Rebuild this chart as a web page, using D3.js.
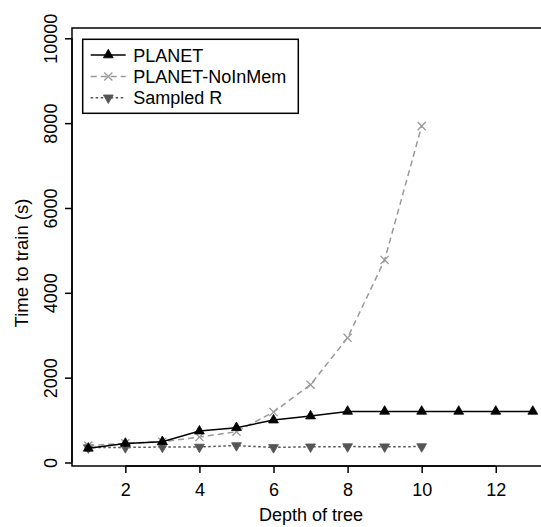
<!DOCTYPE html>
<html>
<head>
<meta charset="utf-8">
<script src="https://cdn.jsdelivr.net/npm/d3@7"></script>
<style>
  html, body { margin: 0; padding: 0; background: #fff; }
  svg text { font-family: "Liberation Sans", Arial, Helvetica, sans-serif; fill: #000; }
</style>
</head>
<body>
<svg id="chart" width="541" height="527"></svg>
<script>
// ---- data ----
const depthPlanet = [1, 2, 3, 4, 5, 6, 7, 8, 9, 10, 11, 12, 13];
const timePlanet = [335, 450, 490, 740, 820, 1000, 1095, 1205, 1205, 1205, 1205, 1205, 1205];

const depthNoInMem = [1, 2, 3, 4, 5, 6, 7, 8, 9, 10];
const timeNoInMem = [400, 452, 490, 600, 726, 1190, 1835, 2940, 4775, 7930];

const depthSampledR = [1, 2, 3, 4, 5, 6, 7, 8, 9, 10];
const timeSampledR = [350, 355, 365, 365, 400, 355, 370, 375, 372, 375];

const xTicks = [2, 4, 6, 8, 10, 12];
const yTicks = [0, 2000, 4000, 6000, 8000, 10000];

const seriesNames = ["PLANET", "PLANET-NoInMem", "Sampled R"];

// ---- layout ----
const svg = d3.select("#chart");
const box = { left: 72, right: 550, top: 28, bottom: 466 };
const x = d3.scaleLinear().domain([1, 13]).range([88.3, 532.8]);
const y = d3.scaleLinear().domain([0, 10000]).range([462.5, 38.3]);

const styles = [
  { color: "#000000", dash: null, marker: "triUp" },
  { color: "#999999", dash: "6,4", marker: "cross" },
  { color: "#555555", dash: "2.5,2.5", marker: "triDown" }
];

const series = [
  { xs: depthPlanet, ys: timePlanet },
  { xs: depthNoInMem, ys: timeNoInMem },
  { xs: depthSampledR, ys: timeSampledR }
];

const triPath = d3.symbol().type(d3.symbolTriangle).size(42)();
const crossType = d3.symbolTimes || d3.symbolX;
const crossPath = d3.symbol().type(crossType).size(45)();

function drawMarker(g, kind, px, py, color) {
  if (kind === "triUp") {
    g.append("path").attr("d", triPath)
      .attr("transform", `translate(${px},${py})`)
      .attr("fill", color).attr("stroke", color).attr("stroke-width", 0.8);
  } else if (kind === "triDown") {
    g.append("path").attr("d", triPath)
      .attr("transform", `translate(${px},${py}) rotate(180)`)
      .attr("fill", color).attr("stroke", color).attr("stroke-width", 0.8);
  } else {
    g.append("path").attr("d", crossPath)
      .attr("transform", `translate(${px},${py})`)
      .attr("fill", "none").attr("stroke", color).attr("stroke-width", 1.3);
  }
}

// ---- series ----
const line = d3.line();
const drawOrder = [2, 1, 0];
drawOrder.forEach(i => {
  const s = series[i], st = styles[i];
  const pts = s.xs.map((d, j) => [x(d), y(s.ys[j])]);
  const g = svg.append("g");
  g.append("path").attr("d", line(pts))
    .attr("fill", "none").attr("stroke", st.color)
    .attr("stroke-width", 1.5)
    .attr("stroke-dasharray", st.dash);
  pts.forEach(p => drawMarker(g, st.marker, p[0], p[1], st.color));
});

// ---- frame ----
svg.append("rect")
  .attr("x", box.left).attr("y", box.top)
  .attr("width", box.right - box.left).attr("height", box.bottom - box.top)
  .attr("fill", "none").attr("stroke", "#000").attr("stroke-width", 1.5);

// ---- axes ----
const xAxis = d3.axisBottom(x).tickValues(xTicks).tickSize(7).tickPadding(8).tickFormat(d3.format("d"));
const gx = svg.append("g").attr("transform", `translate(0,${box.bottom})`).call(xAxis);
gx.select(".domain").attr("stroke", "#000").attr("stroke-width", 1.5)
  .attr("d", `M${x(xTicks[0])},0H${x(xTicks[xTicks.length - 1])}`);
gx.selectAll(".tick line").attr("stroke", "#000").attr("stroke-width", 1.5);
gx.selectAll(".tick text").attr("font-size", 18).attr("font-family", null)
  .attr("dy", null).attr("y", 29.5).attr("fill", "#000");

const yAxis = d3.axisLeft(y).tickValues(yTicks).tickSize(7).tickFormat(d3.format("d"));
const gy = svg.append("g").attr("transform", `translate(${box.left},0)`).call(yAxis);
gy.select(".domain").attr("stroke", "#000").attr("stroke-width", 1.5)
  .attr("d", `M0,${y(0)}V${y(10000)}`);
gy.selectAll(".tick line").attr("stroke", "#000").attr("stroke-width", 1.5);
gy.selectAll(".tick text").attr("font-size", 18).attr("font-family", null)
  .attr("x", null).attr("dy", null)
  .attr("text-anchor", "middle")
  .attr("transform", "translate(-15,0) rotate(-90)")
  .attr("fill", "#000");

// ---- axis titles ----
svg.append("text")
  .attr("x", (box.left + box.right) / 2).attr("y", 521)
  .attr("text-anchor", "middle").attr("font-size", 18)
  .text("Depth of tree");

svg.append("text")
  .attr("transform", `translate(28,263) rotate(-90)`)
  .attr("text-anchor", "middle").attr("font-size", 18.5)
  .text("Time to train (s)");

// ---- legend ----
const leg = svg.append("g");
leg.append("rect")
  .attr("x", 82.7).attr("y", 39.3).attr("width", 215.6).attr("height", 74)
  .attr("fill", "#fff").attr("stroke", "#000").attr("stroke-width", 1.5);
const rowY = [55, 76.5, 97.8];
seriesNames.forEach((name, i) => {
  const st = styles[i];
  leg.append("line")
    .attr("x1", 90.7).attr("x2", 125.7).attr("y1", rowY[i]).attr("y2", rowY[i])
    .attr("stroke", st.color).attr("stroke-width", 1.5)
    .attr("stroke-dasharray", st.dash);
  drawMarker(leg, st.marker, 108.3, rowY[i], st.color);
  leg.append("text")
    .attr("x", 133.3).attr("y", rowY[i] + 6.5)
    .attr("font-size", 18)
    .text(name);
});
</script>
</body>
</html>
